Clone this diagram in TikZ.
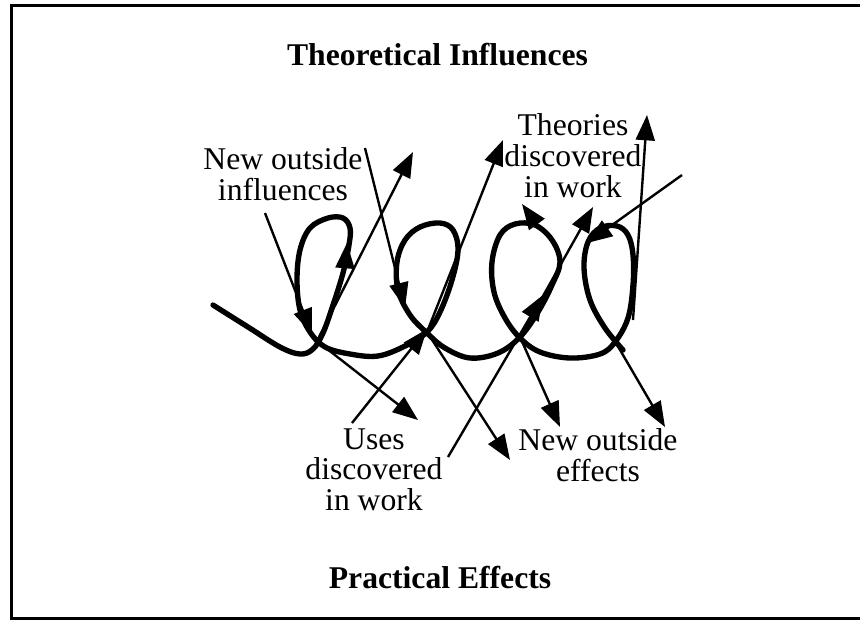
\documentclass[tikz,border=0pt]{standalone}
\usepackage{fontspec}
\setmainfont{Liberation Serif}
\usetikzlibrary{arrows.meta}

\begin{document}
\begin{tikzpicture}[x=0.025cm, y=-0.025cm,
    coilline/.style={line width=3.8pt, line cap=round, line join=round},
    feedline/.style={line width=1.7pt, -{Triangle[length=18pt, width=13.5pt]}},
    wordbox/.style={inner sep=0pt, anchor=north, align=center,
      font=\fontsize{22.5}{22}\selectfont},
    heading/.style={wordbox, font=\fontsize{22.5}{22}\selectfont\bfseries}]
  \useasboundingbox (0,0) rectangle (860,621);
  \draw[line width=2.2pt] (11.5,5.5) rectangle (875,618.5);

  % headings and labels
  \node[heading] (theory) at (437.5,43) {Theoretical Influences};
  \node[heading] (practice) at (440,566) {Practical Effects};
  \node[wordbox] (newin) at (283,147) {New outside\\influences};
  \node[wordbox] (theofound) at (573,113) {Theories\\discovered\\in work};
  \node[wordbox] (usefound) at (374,428) {Uses\\discovered\\in work};
  \node[wordbox] (newout) at (598,428) {New outside\\effects};

  % the coil of work
  \draw[coilline] plot[smooth, tension=0.6] coordinates {
    (213,305) (248,327) (280,347) (300,354) (313,349) (323,333) (333,305)
    (343,273) (349,245) (350,228) (343,218) (328,218) (310,228) (300,250)
    (297,280) (300,310) (310,332) (325,347) (350,354) (378,356) (405,346)
    (427,332) (440,312) (452,280) (458,250) (453,230) (440,223) (420,227)
    (405,240) (397,262) (398,290) (410,315) (427,333) (445,348) (470,358)
    (498,353) (520,337) (538,312) (552,285) (560,262) (552,240) (535,225)
    (515,224) (500,235) (492,262) (494,292) (505,318) (520,338) (540,352)
    (570,358) (600,354) (615,342) (628,318) (633,285) (633,255) (628,235)
    (617,226) (600,228) (588,242) (584,268) (590,300) (605,328) (623,350)};

  % crossings of the coil
  \coordinate (c1) at (317,341);
  \coordinate (c2) at (427,332);
  \coordinate (c3) at (520,337);
  \coordinate (c4) at (616,343);

  % heads on the coil
  \coordinate (riseA) at (345,268);
  \coordinate (riseAtip) at (347,243);
  \coordinate (topC) at (538,226);
  \coordinate (topCtip) at (522,204);
  \draw[feedline] (riseA) -- (riseAtip);
  \draw[feedline] (topC) -- (topCtip);

  % free ends of the thin arrows
  \coordinate (inA) at (265,213);
  \coordinate (hitA) at (312,334);
  \coordinate (outA) at (418,420);
  \coordinate (upA) at (413,152);
  \coordinate (inB) at (365,148);
  \coordinate (hitB) at (405,308);
  \coordinate (useA) at (352,423);
  \coordinate (useAtip) at (427,329);
  \coordinate (upB) at (503,140);
  \coordinate (outB) at (510,460);
  \coordinate (useB) at (448,457);
  \coordinate (useBtip) at (543,295);
  \coordinate (upC) at (593,207);
  \coordinate (outC) at (560,427);
  \coordinate (inD) at (682,175);
  \coordinate (hitD) at (587,243);
  \coordinate (outD) at (665,427);
  \coordinate (footE) at (633,320);
  \coordinate (upE) at (647,115);

  \foreach \from/\to in {inA/hitA, c1/outA, c1/upA, inB/hitB, useA/useAtip,
      c2/upB, c2/outB, useB/useBtip, c3/upC, c3/outC, inD/hitD, c4/outD,
      footE/upE}
    \draw[feedline] (\from) -- (\to);
\end{tikzpicture}
\end{document}
